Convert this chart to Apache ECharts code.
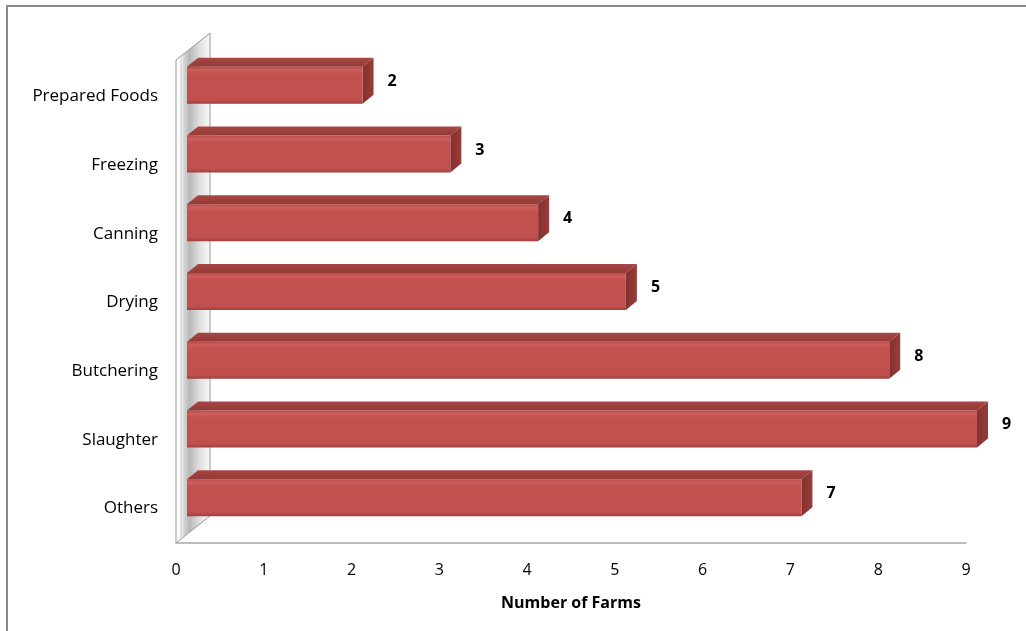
<!DOCTYPE html>
<html>
<head>
<meta charset="utf-8">
<script src="https://cdn.jsdelivr.net/npm/echarts@6/dist/echarts.min.js"></script>
<style>
  html, body { margin: 0; padding: 0; background: #fff; }
  #chart { width: 1026px; height: 631px; }
</style>
</head>
<body>
<div id="chart"></div>
<script>
// Farm processing activities, number of farms per activity (top to bottom)
const categories = ['Prepared Foods', 'Freezing', 'Canning', 'Drying', 'Butchering', 'Slaughter', 'Others'];
const farmCounts = [2, 3, 4, 5, 8, 9, 7];
const xTicks = [0, 1, 2, 3, 4, 5, 6, 7, 8, 9];
const xTitle = 'Number of Farms';

const FONT = '"Open Sans", Lato, sans-serif';

// 3D look: bars sit in the middle of the box depth
const FRONT = { x: 11, y: -11 };   // shift of the bar front face from the floor plane
const DEPTH = { x: 11, y: -9 };    // bar thickness in depth
const WALL = { x: 34, y: -27 };    // full depth of the side wall
const BAR_H = 37;

const GRID = { left: 176, right: 60, top: 62, bottom: 88 };

const chart = echarts.init(document.getElementById('chart'), null, { renderer: 'canvas' });

function renderBar(params, api) {
  const val = api.value(0);
  const cat = api.value(1);
  const p0 = api.coord([0, cat]);
  const p1 = api.coord([val, cat]);
  const x = p0[0] + FRONT.x;
  const y = p0[1] + FRONT.y - BAR_H / 2;
  const w = p1[0] - p0[0];
  const h = BAR_H;
  const dx = DEPTH.x, dy = DEPTH.y;
  return {
    type: 'group',
    children: [
      {
        type: 'polygon',
        shape: { points: [[x, y], [x + dx, y + dy], [x + w + dx, y + dy], [x + w, y]] },
        style: {
          fill: new echarts.graphic.LinearGradient(0, 0, 0, 1, [
            { offset: 0, color: '#a84643' },
            { offset: 1, color: '#923a37' }
          ])
        }
      },
      {
        type: 'polygon',
        shape: { points: [[x + w, y], [x + w + dx, y + dy], [x + w + dx, y + h + dy], [x + w, y + h]] },
        style: {
          fill: new echarts.graphic.LinearGradient(0, 0, 1, 0, [
            { offset: 0, color: '#833130' },
            { offset: 1, color: '#9a3c39' }
          ])
        }
      },
      {
        type: 'rect',
        shape: { x: x, y: y, width: w, height: h },
        style: {
          fill: new echarts.graphic.LinearGradient(0, 0, 0, 1, [
            { offset: 0, color: '#b54a47' },
            { offset: 0.08, color: '#cd5e5b' },
            { offset: 0.2, color: '#c3524f' },
            { offset: 0.9, color: '#c0504d' },
            { offset: 1, color: '#a03f3c' }
          ])
        }
      },
      {
        type: 'text',
        style: {
          x: x + w + dx + 14,
          y: y + h / 2 - 4,
          text: String(val),
          fill: '#000',
          font: 'bold 16px ' + FONT,
          align: 'left',
          verticalAlign: 'middle'
        }
      }
    ]
  };
}

chart.setOption({
  animation: false,
  backgroundColor: '#fff',
  grid: GRID,
  xAxis: {
    type: 'value',
    min: xTicks[0],
    max: xTicks[xTicks.length - 1],
    interval: 1,
    name: xTitle,
    nameLocation: 'middle',
    nameGap: 52,
    nameTextStyle: { color: '#000', fontFamily: FONT, fontSize: 16, fontWeight: 'bold' },
    axisLine: { show: true, lineStyle: { color: '#a6a6a6', width: 1.5 } },
    axisTick: { show: false },
    splitLine: { show: false },
    axisLabel: { color: '#000', fontFamily: FONT, fontSize: 16, margin: 19 }
  },
  yAxis: {
    type: 'category',
    inverse: true,
    data: categories,
    axisLine: { show: false },
    axisTick: { show: false },
    axisLabel: { color: '#000', fontFamily: FONT, fontSize: 17, margin: 18 }
  },
  series: [{
    type: 'custom',
    renderItem: renderBar,
    encode: { x: 0, y: 1 },
    data: farmCounts.map((v, i) => [v, i]),
    z: 5
  }]
});

// Side wall and chart frame, placed from the axis scale
function drawFrame() {
  const fx = chart.convertToPixel({ xAxisIndex: 0 }, 0);
  const topY = GRID.top - 2;
  const botY = 631 - GRID.bottom;
  const bx = fx + WALL.x;
  chart.setOption({
    graphic: [
      {
        type: 'rect',
        z: -10,
        shape: { x: 7, y: 6, width: 1040, height: 650 },
        style: { fill: null, stroke: '#8a8a8a', lineWidth: 2 }
      },
      {
        type: 'polygon',
        z: -5,
        shape: { points: [[fx, topY], [bx, topY + WALL.y], [bx, botY + WALL.y], [fx, botY]] },
        style: {
          fill: new echarts.graphic.LinearGradient(fx, 0, bx, 0, [
            { offset: 0, color: '#ffffff' },
            { offset: 0.16, color: '#fbfbfb' },
            { offset: 0.22, color: '#d8d8d8' },
            { offset: 0.4, color: '#b8b8b8' },
            { offset: 0.7, color: '#e0e0e0' },
            { offset: 1, color: '#f8f8f8' }
          ], true),
          stroke: '#999999',
          lineWidth: 1
        }
      },
      {
        type: 'line',
        z: -4,
        shape: { x1: fx + 5, y1: topY - 4, x2: fx + 5, y2: botY - 4 },
        style: { stroke: '#c4c4c4', lineWidth: 1 }
      }
    ]
  });
}
drawFrame();
</script>
</body>
</html>
